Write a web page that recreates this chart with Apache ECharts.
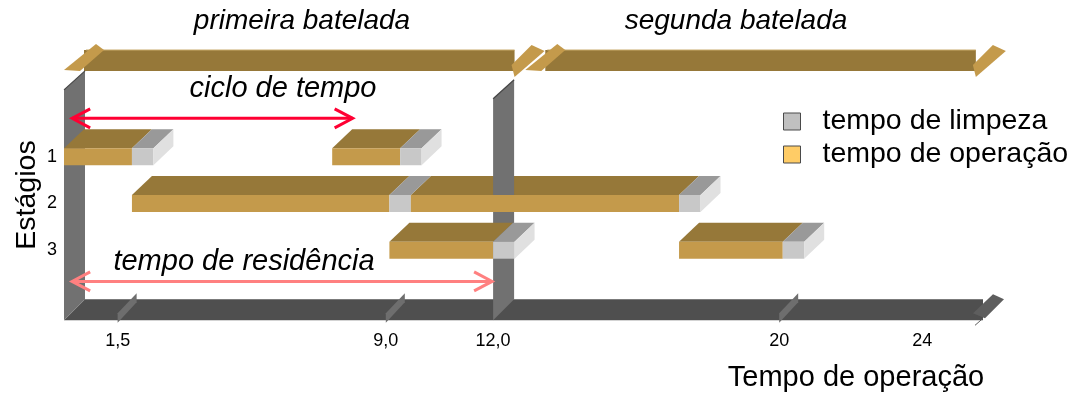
<!DOCTYPE html>
<html>
<head>
<meta charset="utf-8">
<script src="https://cdn.jsdelivr.net/npm/echarts@6/dist/echarts.min.js"></script>
<style>
  html, body { margin: 0; padding: 0; background: #ffffff; }
  #chart { width: 1078px; height: 394px; }
</style>
</head>
<body>
<div id="chart"></div>
<script>
// Stages of the plant and the two batches scheduled on them (times in h)
const stages = ['1', '2', '3'];
const batchNames = ['primeira batelada', 'segunda batelada'];
const batch1Operation = [[0, 1.9], [1.9, 9.1], [9.1, 12.0]];
const batch1CleaningEnd = [2.5, 9.7, 12.6];
const batch2Operation = [[7.5, 9.4], [9.7, 17.2], [17.2, 20.1]];
const batch2CleaningEnd = [10.0, 17.8, 20.7];
// time span covered by each batch (arrows along the top)
const batchSpans = [[0, 12.6], [12.9, 25.5]];
const cycleTime = [0.2, 8.1];
const residenceTime = [0.2, 12.0];
// time axis
const tickValues = [1.5, 9.0, 12.0, 20, 24];
const tickLabels = ['1,5', '9,0', '12,0', '20', '24'];
const floorTicks = [1.5, 9.0, 20];
const walls = [0, 12.0];
const axisEnd = 25.7;

const FONT = "'Liberation Sans', Arial, sans-serif";
const DX = 20, DY = -19, HALF = 8.5;

const operationData = [];
const cleaningData = [];
[[batch1Operation, batch1CleaningEnd], [batch2Operation, batch2CleaningEnd]].forEach(([ops, cleanEnd], b) => {
  ops.forEach((op, i) => {
    operationData.push([i + 1, op[0], op[1], b]);
    cleaningData.push([i + 1, op[1], cleanEnd[i], b]);
  });
});
// a cleaning block shows its end face only when nothing starts right after it
function followedByOperation(row, t) {
  return operationData.some(d => d[0] === row && Math.abs(d[1] - t) < 1e-9);
}

function block(api, colors, z2Top, z2Front, withSide) {
  const row = api.value(0);
  const a = api.coord([api.value(1), row]);
  const b = api.coord([api.value(2), row]);
  const y0 = a[1] - HALF, y1 = a[1] + HALF;
  const children = [
    { type: 'polygon', z2: z2Top, shape: { points: [[a[0], y0], [b[0], y0], [b[0] + DX, y0 + DY], [a[0] + DX, y0 + DY]] },
      style: { fill: colors.top } },
    { type: 'rect', z2: z2Front, shape: { x: a[0], y: y0, width: b[0] - a[0], height: y1 - y0 },
      style: { fill: colors.front } }
  ];
  if (withSide) {
    children.push({ type: 'polygon', z2: z2Front, shape: { points: [[b[0], y0], [b[0] + DX, y0 + DY], [b[0] + DX, y1 + DY], [b[0], y1]] },
      style: { fill: colors.side } });
  }
  return { type: 'group', children };
}

const chart = echarts.init(document.getElementById('chart'), null, { renderer: 'canvas' });

function label(x, y, text, font, extra) {
  return Object.assign({ type: 'text', x, y, style: { text, font: font + ' ' + FONT, fill: '#000', align: 'center', verticalAlign: 'middle' } }, extra || {});
}

const option = {
  animation: false,
  backgroundColor: '#ffffff',
  textStyle: { fontFamily: FONT },
  grid: { left: 64, right: 95, top: 110, bottom: 69 },
  xAxis: {
    type: 'value', min: 0, max: axisEnd,
    axisLine: { show: false }, axisTick: { show: false }, splitLine: { show: false },
    axisLabel: {
      customValues: tickValues,
      formatter: v => tickLabels[tickValues.indexOf(v)],
      fontSize: 18, color: '#000', margin: 7, fontFamily: FONT
    }
  },
  yAxis: {
    type: 'value', inverse: true, min: 0, max: 4.6,
    axisLine: { show: false }, axisTick: { show: false }, splitLine: { show: false },
    axisLabel: {
      customValues: [1, 2, 3],
      formatter: v => stages[v - 1],
      fontSize: 18, color: '#000', margin: 7, fontFamily: FONT
    }
  },
  legend: {
    orient: 'vertical', left: 783, top: 107, padding: 0,
    itemWidth: 17, itemHeight: 17, itemGap: 4,
    selectedMode: false, icon: 'rect',
    textStyle: { fontSize: 28.5, color: '#000', fontFamily: FONT, padding: [0, 0, 0, 17] },
    data: [
      { name: 'tempo de limpeza', itemStyle: { color: '#C0C0C0', borderColor: '#4a4a4a', borderWidth: 1 } },
      { name: 'tempo de operação', itemStyle: { color: '#FFCC66', borderColor: '#4a4a4a', borderWidth: 1 } }
    ]
  },
  graphic: [
    label(302, 21, batchNames[0], 'italic 28px'),
    label(736, 21, batchNames[1], 'italic 28px'),
    label(283, 89, 'ciclo de tempo', 'italic 29px'),
    label(244, 262, 'tempo de residência', 'italic 29px'),
    label(856, 378, 'Tempo de operação', '29px'),
    label(27, 195, 'Estágios', '28.5px', { rotation: Math.PI / 2 })
  ],
  series: [
    // floor of the time axis with its arrowhead
    {
      type: 'custom', name: 'eixo', silent: true,
      data: [[0, axisEnd]],
      renderItem: (params, api) => {
        const a = api.coord([api.value(0), 4.5]);
        const b = api.coord([api.value(1), 4.5]);
        const yb = a[1], f = b[0];
        return { type: 'group', children: [
          { type: 'polygon', z2: 1, shape: { points: [[a[0], yb], [a[0] + 21, yb - 21], [f, yb - 21], [f, yb]] }, style: { fill: '#4F4F4F' } },
          { type: 'polygon', z2: 2, shape: { points: [[f - 10, yb - 7], [f + 10, yb - 26], [f + 21, yb - 21], [f + 2, yb - 2]] }, style: { fill: '#5E5E5E' } },
          { type: 'line', z2: 2, shape: { x1: f, y1: yb - 2, x2: f - 8, y2: yb + 5 }, style: { stroke: '#5E5E5E', lineWidth: 1 } }
        ] };
      }
    },
    // tick plates standing on the floor
    {
      type: 'custom', name: 'marcas', silent: true,
      data: floorTicks.map(v => [v]),
      renderItem: (params, api) => {
        const p = api.coord([api.value(0), 4.5]);
        const x = p[0], yb = p[1];
        return { type: 'polygon', z2: 2, shape: { points: [[x, yb + 2.5], [x, yb - 7], [x + 19, yb - 27], [x + 19, yb - 18]] }, style: { fill: '#6E6E6E' } };
      }
    },
    // walls at the start and at the end of the first batch
    {
      type: 'custom', name: 'paredes', silent: true,
      data: walls.map(v => [v]),
      renderItem: (params, api) => {
        const topRow = params.dataIndex === 0 ? -0.43 : -0.24;
        const x = api.coord([api.value(0), 0])[0];
        const yTop = api.coord([0, topRow])[1];
        const yBot = api.coord([0, 4.5])[1];
        const z2 = params.dataIndex === 0 ? 3 : 6;
        return { type: 'group', children: [
          { type: 'polygon', z2, shape: { points: [[x, yTop], [x + 21, yTop - 19], [x + 21, yBot - 21], [x, yBot]] }, style: { fill: '#717171' } },
          { type: 'line', z2, shape: { x1: x, y1: yTop, x2: x + 21, y2: yTop - 19 }, style: { stroke: '#454545', lineWidth: 1.2 } }
        ] };
      }
    },
    // batch arrows along the top
    {
      type: 'custom', name: 'bateladas', silent: true,
      data: batchSpans,
      renderItem: (params, api) => {
        const L = api.coord([api.value(0), -0.834])[0];
        const Rp = api.coord([api.value(1), -0.834]);
        const R = Rp[0], yb = Rp[1];
        return { type: 'group', children: [
          { type: 'rect', z2: 1, shape: { x: L + 20, y: yb - 21, width: R - L - 20, height: 21 }, style: { fill: '#967839' } },
          { type: 'line', z2: 1, shape: { x1: L + 22, y1: yb - 21, x2: R, y2: yb - 21 }, style: { stroke: '#C8A868', lineWidth: 1 } },
          { type: 'polygon', z2: 2, shape: { points: [[L, yb - 1], [L + 32, yb - 27], [L + 40, yb - 21], [L + 16, yb]] }, style: { fill: '#C49A4B' } },
          { type: 'polygon', z2: 2, shape: { points: [[R - 3, yb - 6], [R + 17, yb - 26], [R + 30, yb - 20], [R, yb + 6]] }, style: { fill: '#C49A4B' } }
        ] };
      }
    },
    {
      type: 'custom', name: 'tempo de operação',
      itemStyle: { color: '#C49A4B' },
      encode: { x: [1, 2], y: 0 },
      data: operationData,
      renderItem: (params, api) => {
        const row = api.value(0), batch = api.value(3);
        const base = 10 + row * 10 + batch * 4;
        // the middle row's top face passes behind the wall at 12 h
        const zTop = row === 2 ? 5 : base;
        return block(api, { top: '#967839', front: '#C49A4B' }, zTop, base + 1, false);
      }
    },
    {
      type: 'custom', name: 'tempo de limpeza',
      itemStyle: { color: '#C8C8C8' },
      encode: { x: [1, 2], y: 0 },
      data: cleaningData,
      renderItem: (params, api) => {
        const row = api.value(0), batch = api.value(3);
        const base = 10 + row * 10 + batch * 4;
        const side = !followedByOperation(row, api.value(2));
        return block(api, { top: '#999999', front: '#C8C8C8', side: '#E0E0E0' }, base + 2, base + 3, side);
      }
    },
    // cycle time and residence time arrows
    {
      type: 'custom', name: 'tempos', silent: true,
      data: [[cycleTime[0], cycleTime[1], 0.178], [residenceTime[0], residenceTime[1], 3.667]],
      renderItem: (params, api) => {
        const a = api.coord([api.value(0), api.value(2)]);
        const b = api.coord([api.value(1), api.value(2)]);
        const y = a[1];
        const color = params.dataIndex === 0 ? '#FF0033' : '#FF8080';
        const st = { stroke: color, lineWidth: 3, fill: null, lineJoin: 'miter' };
        return { type: 'group', children: [
          { type: 'line', z2: 50, shape: { x1: a[0] + 1, y1: y, x2: b[0] - 1, y2: y }, style: st },
          { type: 'polyline', z2: 50, shape: { points: [[a[0] + 19, y - 9.5], [a[0] + 1, y], [a[0] + 19, y + 9.5]] }, style: st },
          { type: 'polyline', z2: 50, shape: { points: [[b[0] - 19, y - 9.5], [b[0] - 1, y], [b[0] - 19, y + 9.5]] }, style: st }
        ] };
      }
    }
  ]
};

chart.setOption(option);
</script>
</body>
</html>
